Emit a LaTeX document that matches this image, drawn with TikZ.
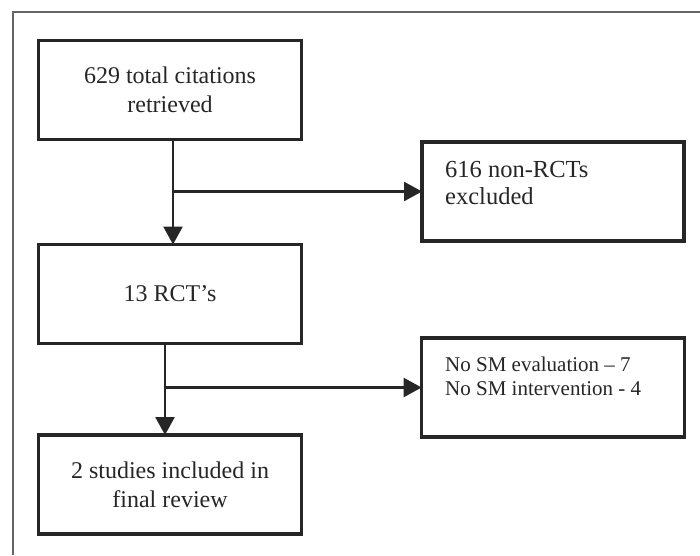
\documentclass[tikz,border=0pt]{standalone}
\usepackage{fontspec}
\setmainfont{Liberation Serif}
\usetikzlibrary{arrows.meta}
\tikzset{
  stepbox/.style={draw=black!85, line width=3.2pt, minimum width=263pt, minimum height=99pt,
    inner sep=0pt, outer sep=0pt, align=center, text=black!85, font=\fontsize{24}{29}\selectfont},
  flow/.style={draw=black!85, line width=2.7pt, -{Triangle[length=18pt,width=19pt]}},
  notetext/.style={inner sep=0pt, anchor=north west, align=left, text=black!85}
}
\begin{document}
\begin{tikzpicture}[x=1pt,y=-1pt]
\useasboundingbox (0,0) rectangle (700,555);
% frame
\draw[line width=1.3pt, black!60] (13,555) -- (13,12) -- (700,12);

% main boxes
\node[stepbox] (cit) at (170,90) {629 total citations\\retrieved};
\node[stepbox] (rct) at (170,294) {13 RCT’s};
\node[stepbox] (final) at (170,484.5) {2 studies included in\\final review};

% exclusion boxes
\node[stepbox, line width=4pt, minimum width=262pt] (excl1) at (553,191.5) {};
\node[stepbox, minimum width=262.8pt] (excl2) at (553,387.5) {};
\node[notetext, font=\fontsize{24.5}{27}\selectfont] (excl1txt)
  at ([xshift=23pt,yshift=-19pt]excl1.north west) {616 non-RCTs\\excluded};
\node[notetext, font=\fontsize{21}{24}\selectfont] (excl2txt)
  at ([xshift=23.4pt,yshift=-18.5pt]excl2.north west) {No SM evaluation -- 7\\No SM intervention - 4};

% arrows
\draw[flow] ([xshift=3pt]cit.south) -- ([xshift=3pt]rct.north);
\draw[flow] ([xshift=3pt]cit.south |- excl1.west) -- (excl1.west);
\draw[flow] ([xshift=-5pt]rct.south) -- ([xshift=-5pt]final.north);
\draw[flow] ([xshift=-5pt]rct.south |- excl2.west) -- (excl2.west);
\end{tikzpicture}
\end{document}
